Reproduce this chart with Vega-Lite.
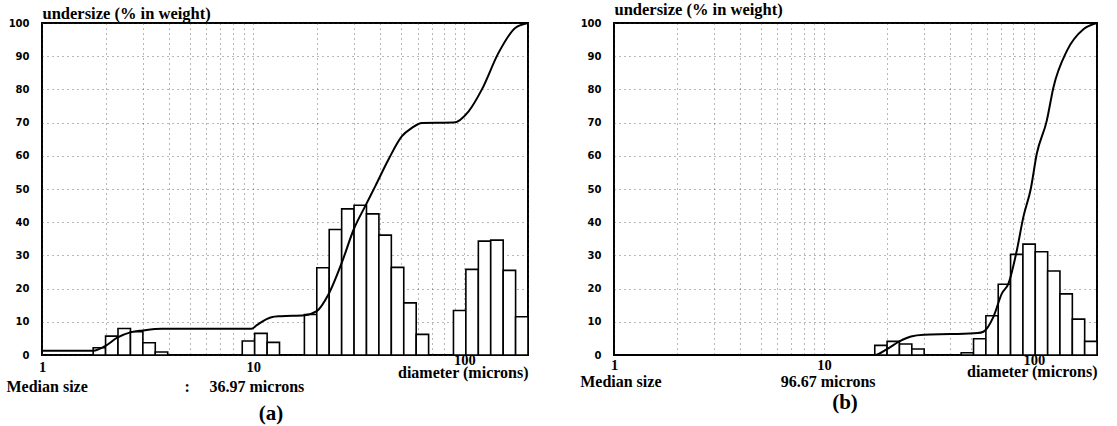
{
  "$schema": "https://vega.github.io/schema/vega-lite/v6.json",
  "background": "white",
  "padding": {"left": 5, "top": 0, "right": 0, "bottom": 0},
  "spacing": 46,
  "datasets": {
    "binsA": [
      {"lo": 1.747, "hi": 2.0, "pct": 2.2},
      {"lo": 2.0, "hi": 2.29, "pct": 5.7},
      {"lo": 2.29, "hi": 2.623, "pct": 8.0},
      {"lo": 2.623, "hi": 3.003, "pct": 7.0},
      {"lo": 3.003, "hi": 3.438, "pct": 3.7},
      {"lo": 3.438, "hi": 3.937, "pct": 0.9},
      {"lo": 8.874, "hi": 10.16, "pct": 4.2},
      {"lo": 10.16, "hi": 11.64, "pct": 6.5},
      {"lo": 11.64, "hi": 13.32, "pct": 3.8},
      {"lo": 17.47, "hi": 20.0, "pct": 12.2},
      {"lo": 20.0, "hi": 22.9, "pct": 26.3},
      {"lo": 22.9, "hi": 26.23, "pct": 37.8},
      {"lo": 26.23, "hi": 30.03, "pct": 44.0},
      {"lo": 30.03, "hi": 34.38, "pct": 45.1},
      {"lo": 34.38, "hi": 39.37, "pct": 42.5},
      {"lo": 39.37, "hi": 45.08, "pct": 36.1},
      {"lo": 45.08, "hi": 51.62, "pct": 26.4},
      {"lo": 51.62, "hi": 59.11, "pct": 15.7},
      {"lo": 59.11, "hi": 67.68, "pct": 6.2},
      {"lo": 88.74, "hi": 101.6, "pct": 13.4},
      {"lo": 101.6, "hi": 116.4, "pct": 25.8},
      {"lo": 116.4, "hi": 133.2, "pct": 34.3},
      {"lo": 133.2, "hi": 152.6, "pct": 34.6},
      {"lo": 152.6, "hi": 174.7, "pct": 25.5},
      {"lo": 174.7, "hi": 200, "pct": 11.5}
    ],
    "cumA": [
      {"d": 1, "cum": 1.3},
      {"d": 1.75, "cum": 1.3},
      {"d": 1.98, "cum": 2.6},
      {"d": 2.27, "cum": 5.2},
      {"d": 2.64, "cum": 6.9},
      {"d": 3.0, "cum": 7.4},
      {"d": 3.7, "cum": 7.9},
      {"d": 9.8, "cum": 7.9},
      {"d": 10.4, "cum": 9.0},
      {"d": 12.2, "cum": 11.4},
      {"d": 13.5, "cum": 11.7},
      {"d": 17.5, "cum": 12.0},
      {"d": 20.0, "cum": 13.2},
      {"d": 22.7, "cum": 18.2},
      {"d": 26.3, "cum": 27.9},
      {"d": 29.9, "cum": 37.8},
      {"d": 34.2, "cum": 45.3},
      {"d": 37.8, "cum": 50.8},
      {"d": 43.7, "cum": 58.9},
      {"d": 50.6, "cum": 65.9},
      {"d": 56.4, "cum": 68.4},
      {"d": 62.9, "cum": 69.9},
      {"d": 88.9, "cum": 70.0},
      {"d": 104.7, "cum": 73.4},
      {"d": 121, "cum": 80.0},
      {"d": 145, "cum": 91.0},
      {"d": 174, "cum": 98.5},
      {"d": 200, "cum": 100}
    ],
    "binsB": [
      {"lo": 17.47, "hi": 20.0, "pct": 2.9},
      {"lo": 20.0, "hi": 22.9, "pct": 4.1},
      {"lo": 22.9, "hi": 26.23, "pct": 3.3},
      {"lo": 26.23, "hi": 30.03, "pct": 1.8},
      {"lo": 45.08, "hi": 51.62, "pct": 0.7},
      {"lo": 51.62, "hi": 59.11, "pct": 4.9},
      {"lo": 59.11, "hi": 67.68, "pct": 11.8},
      {"lo": 67.68, "hi": 77.5, "pct": 21.3},
      {"lo": 77.5, "hi": 88.74, "pct": 30.3},
      {"lo": 88.74, "hi": 101.6, "pct": 33.4},
      {"lo": 101.6, "hi": 116.4, "pct": 31.1},
      {"lo": 116.4, "hi": 133.2, "pct": 25.3},
      {"lo": 133.2, "hi": 152.6, "pct": 18.4},
      {"lo": 152.6, "hi": 174.7, "pct": 10.8},
      {"lo": 174.7, "hi": 200, "pct": 4.1}
    ],
    "cumB": [
      {"d": 1, "cum": 0},
      {"d": 17.5, "cum": 0},
      {"d": 20.0, "cum": 1.8},
      {"d": 23.0, "cum": 4.2},
      {"d": 26.0, "cum": 5.6},
      {"d": 30.0, "cum": 6.1},
      {"d": 40.0, "cum": 6.3},
      {"d": 54.0, "cum": 6.6},
      {"d": 57.5, "cum": 7.0},
      {"d": 64.2, "cum": 11.5},
      {"d": 70.4, "cum": 18.5},
      {"d": 75.7, "cum": 21.5},
      {"d": 83.0, "cum": 31.5},
      {"d": 89.2, "cum": 41.6},
      {"d": 96.7, "cum": 50.0},
      {"d": 103.3, "cum": 60.6},
      {"d": 115.3, "cum": 70.6},
      {"d": 124, "cum": 80.6},
      {"d": 143.7, "cum": 91.6},
      {"d": 172.3, "cum": 98.1},
      {"d": 200, "cum": 100}
    ],
    "one": [{}]
  },
  "config": {
    "view": {"stroke": "black", "strokeWidth": 2},
    "axis": {
      "domain": false,
      "ticks": false,
      "tickSize": 0,
      "grid": true,
      "gridColor": "#333333",
      "gridDash": [1, 4],
      "gridWidth": 1,
      "gridOpacity": 0.7,
      "labelColor": "black",
      "titleColor": "black",
      "labelOverlap": false
    },
    "text": {"font": "Liberation Serif", "fontWeight": "bold", "color": "black"}
  },
  "hconcat": [
    {
      "width": 486,
      "height": 332,
      "layer": [
        {
          "data": {"name": "binsA"},
          "mark": {"type": "bar", "fill": "white", "stroke": "black", "strokeWidth": 1.6},
          "encoding": {
            "x": {
              "field": "lo", "type": "quantitative",
              "scale": {"type": "log", "domain": [1, 200], "nice": false},
              "axis": {
                "values": [1, 2, 3, 4, 5, 6, 7, 8, 9, 10, 20, 30, 40, 50, 60, 70, 80, 90, 100, 200],
                "tickCount": 30,
                "labelExpr": "datum.value == 1 || datum.value == 10 || datum.value == 100 ? format(datum.value, 'd') : ''",
                "labelFont": "Liberation Serif", "labelFontWeight": "bold", "labelFontSize": 14.5,
                "labelPadding": {"condition": {"test": "datum.value == 100", "value": -2}, "value": 5},
                "labelOverlap": false, "labelFlush": false,
                "title": "diameter (microns)",
                "titleFont": "Liberation Serif", "titleFontWeight": "bold", "titleFontSize": 16,
                "titleAnchor": "end", "titleAlign": "right", "titleBaseline": "alphabetic",
                "titleX": 486, "titleY": 22.5
              }
            },
            "x2": {"field": "hi"},
            "y": {
              "field": "pct", "type": "quantitative", "stack": null,
              "scale": {"domain": [0, 100], "nice": false},
              "axis": {
                "values": [0, 10, 20, 30, 40, 50, 60, 70, 80, 90, 100],
                "tickCount": 11,
                "labelFont": "DejaVu Sans", "labelFontWeight": "bold", "labelFontSize": 10,
                "labelPadding": 13, "labelOverlap": false,
                "title": "undersize (% in weight)",
                "titleFont": "Liberation Serif", "titleFontWeight": "bold", "titleFontSize": 16.5,
                "titleAngle": 0, "titleAlign": "left", "titleBaseline": "alphabetic",
                "titleX": 0, "titleY": -5
              }
            },
            "y2": {"datum": 0}
          }
        },
        {
          "data": {"name": "cumA"},
          "mark": {"type": "line", "color": "black", "strokeWidth": 2, "interpolate": "monotone"},
          "encoding": {
            "x": {"field": "d", "type": "quantitative"},
            "y": {"field": "cum", "type": "quantitative"}
          }
        },
        {
          "data": {"name": "one"},
          "mark": {"type": "text", "align": "left", "baseline": "alphabetic", "fontSize": 16},
          "encoding": {"x": {"datum": 0.679}, "y": {"datum": -11.2}, "text": {"value": "Median size"}}
        },
        {
          "data": {"name": "one"},
          "mark": {"type": "text", "align": "left", "baseline": "alphabetic", "fontSize": 16},
          "encoding": {"x": {"datum": 4.73}, "y": {"datum": -11.2}, "text": {"value": ":"}}
        },
        {
          "data": {"name": "one"},
          "mark": {"type": "text", "align": "left", "baseline": "alphabetic", "fontSize": 16},
          "encoding": {"x": {"datum": 6.21}, "y": {"datum": -11.2}, "text": {"value": "36.97 microns"}}
        },
        {
          "data": {"name": "one"},
          "mark": {"type": "text", "align": "center", "baseline": "alphabetic", "fontSize": 21},
          "encoding": {"x": {"datum": 12.14}, "y": {"datum": -19.6}, "text": {"value": "(a)"}}
        }
      ]
    },
    {
      "width": 483,
      "height": 332,
      "layer": [
        {
          "data": {"name": "binsB"},
          "mark": {"type": "bar", "fill": "white", "stroke": "black", "strokeWidth": 1.6},
          "encoding": {
            "x": {
              "field": "lo", "type": "quantitative",
              "scale": {"type": "log", "domain": [1, 200], "nice": false},
              "axis": {
                "values": [1, 2, 3, 4, 5, 6, 7, 8, 9, 10, 20, 30, 40, 50, 60, 70, 80, 90, 100, 200],
                "tickCount": 30,
                "labelExpr": "datum.value == 1 || datum.value == 10 || datum.value == 100 ? format(datum.value, 'd') : ''",
                "labelFont": "Liberation Serif", "labelFontWeight": "bold", "labelFontSize": 14.5,
                "labelPadding": {"condition": {"test": "datum.value == 100", "value": -2}, "value": 3},
                "labelOverlap": false, "labelFlush": false,
                "title": "diameter (microns)",
                "titleFont": "Liberation Serif", "titleFontWeight": "bold", "titleFontSize": 16,
                "titleAnchor": "end", "titleAlign": "right", "titleBaseline": "alphabetic",
                "titleX": 483, "titleY": 21.5
              }
            },
            "x2": {"field": "hi"},
            "y": {
              "field": "pct", "type": "quantitative", "stack": null,
              "scale": {"domain": [0, 100], "nice": false},
              "axis": {
                "values": [0, 10, 20, 30, 40, 50, 60, 70, 80, 90, 100],
                "tickCount": 11,
                "labelFont": "DejaVu Sans", "labelFontWeight": "bold", "labelFontSize": 10,
                "labelPadding": 13, "labelOverlap": false,
                "title": "undersize (% in weight)",
                "titleFont": "Liberation Serif", "titleFontWeight": "bold", "titleFontSize": 16.5,
                "titleAngle": 0, "titleAlign": "left", "titleBaseline": "alphabetic",
                "titleX": 0, "titleY": -9
              }
            },
            "y2": {"datum": 0}
          }
        },
        {
          "data": {"name": "cumB"},
          "mark": {"type": "line", "color": "black", "strokeWidth": 2, "interpolate": "monotone"},
          "encoding": {
            "x": {"field": "d", "type": "quantitative"},
            "y": {"field": "cum", "type": "quantitative"}
          }
        },
        {
          "data": {"name": "one"},
          "mark": {"type": "text", "align": "left", "baseline": "alphabetic", "fontSize": 16},
          "encoding": {"x": {"datum": 0.69}, "y": {"datum": -9.6}, "text": {"value": "Median size"}}
        },
        {
          "data": {"name": "one"},
          "mark": {"type": "text", "align": "left", "baseline": "alphabetic", "fontSize": 16},
          "encoding": {"x": {"datum": 6.23}, "y": {"datum": -9.6}, "text": {"value": "96.67 microns"}}
        },
        {
          "data": {"name": "one"},
          "mark": {"type": "text", "align": "center", "baseline": "alphabetic", "fontSize": 21},
          "encoding": {"x": {"datum": 12.6}, "y": {"datum": -16.2}, "text": {"value": "(b)"}}
        }
      ]
    }
  ]
}
